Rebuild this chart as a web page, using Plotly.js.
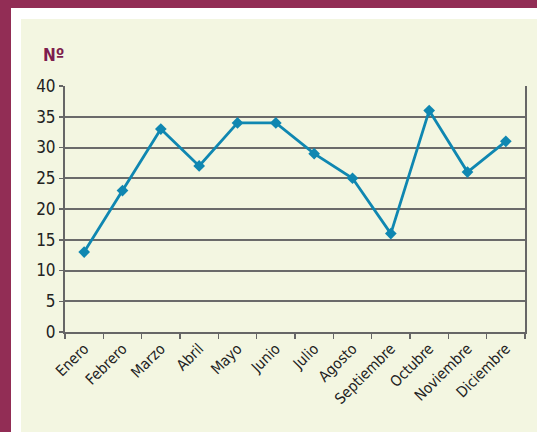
<!DOCTYPE html>
<html><head><meta charset="utf-8">
<script src="https://cdn.plot.ly/plotly-3.0.1.min.js"></script>
<style>
html,body{margin:0;padding:0;width:537px;height:432px;overflow:hidden;background:#922d55;}
#white{position:absolute;left:11px;top:8px;width:526px;height:424px;background:#ffffff;}
#plot{position:absolute;left:21px;top:19px;width:516px;height:413px;background:#f3f6e1;}
</style></head>
<body>
<div id="white"></div>
<div id="plot"></div>
<script>
const months = ["Enero","Febrero","Marzo","Abril","Mayo","Junio","Julio","Agosto","Septiembre","Octubre","Noviembre","Diciembre"];
const values = [13,23,33,27,34,34,29,25,16,36,26,31];
const yTitle = "Nº";

const fontFam = "'Liberation Sans Narrow', 'DejaVu Sans Condensed', sans-serif";
Plotly.newPlot('plot', [{
  x: months, y: values, type: 'scatter', mode: 'lines+markers',
  line: {color: '#0f87b1', width: 2.8},
  marker: {symbol: 'diamond', size: 9, color: '#0f87b1'}
}], {
  width: 516, height: 413,
  paper_bgcolor: '#f3f6e1', plot_bgcolor: '#f3f6e1',
  margin: {l: 44, r: 12, t: 67, b: 100},
  showlegend: false,
  font: {family: fontFam, size: 15, color: '#222'},
  xaxis: {type: 'category', range: [-0.5, 11.5], tickangle: -45, tickson: 'boundaries',
    ticks: 'outside', ticklen: 5, tickcolor: '#666', tickwidth: 1.5, showline: true, linecolor: '#666', linewidth: 2,
    showgrid: false, zeroline: false, tickfont: {family: fontFam, size: 15, color: '#222'}, fixedrange: true},
  yaxis: {range: [0, 40], dtick: 5, ticks: 'outside', ticklen: 4, tickcolor: '#666', tickwidth: 1.5,
    showline: true, mirror: true, linecolor: '#666', linewidth: 2,
    showgrid: true, gridcolor: '#6a6a6a', gridwidth: 2, zeroline: false,
    tickfont: {family: fontFam, size: 17, color: '#222'}, fixedrange: true},
  annotations: [{text: '<b>' + yTitle + '</b>', xref: 'paper', yref: 'paper', x: -0.052, y: 1.126,
    xanchor: 'left', yanchor: 'middle', showarrow: false, font: {family: fontFam, size: 17, color: '#7d1d4d'}}]
}, {staticPlot: true});
</script>
</body></html>
